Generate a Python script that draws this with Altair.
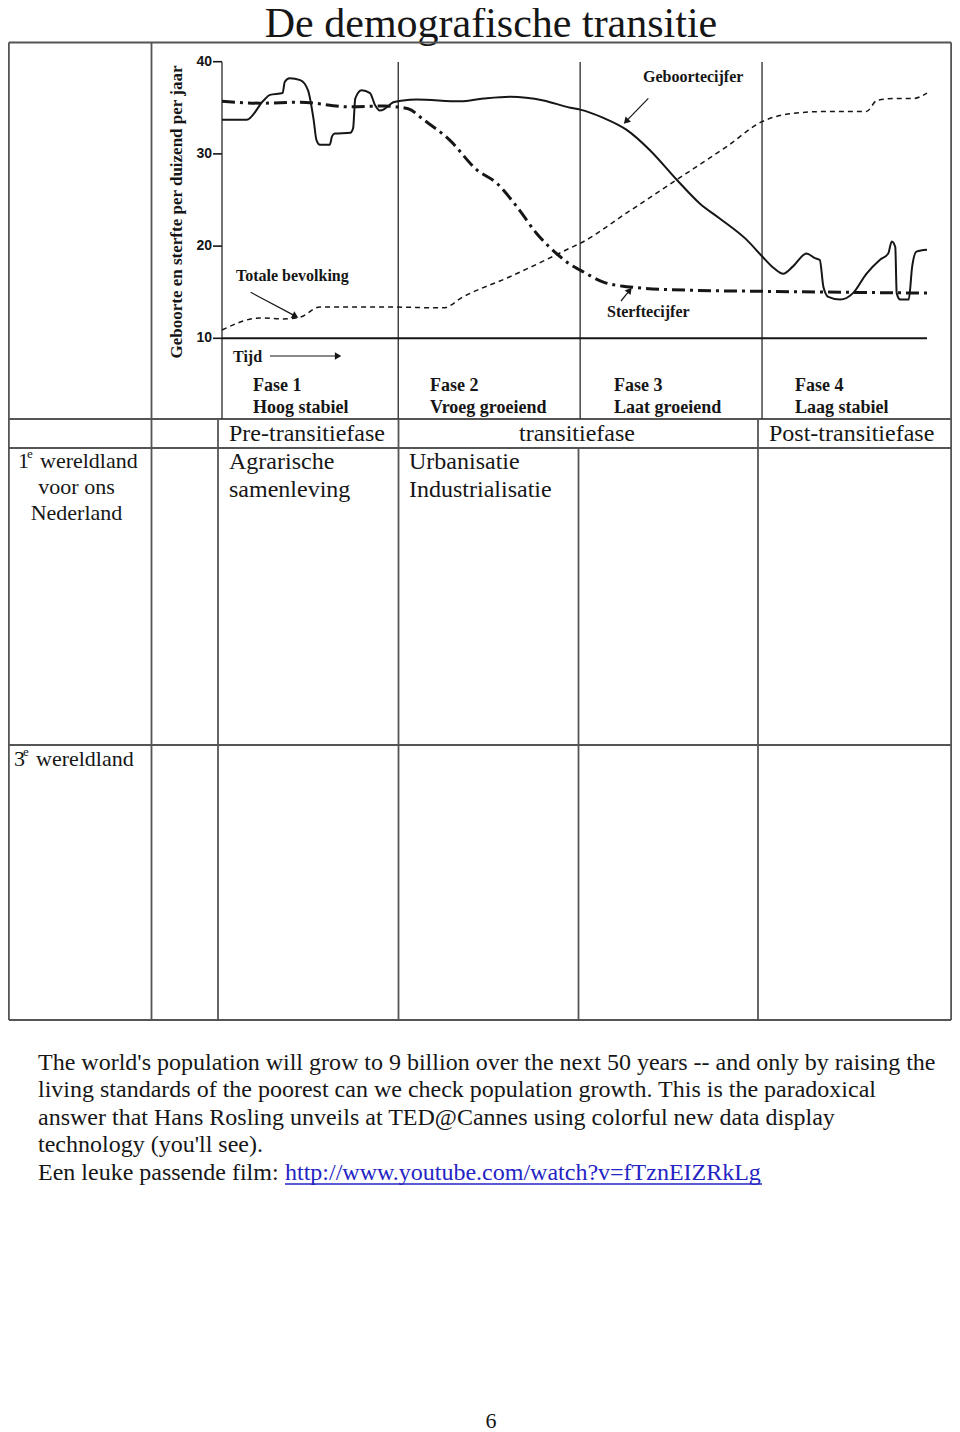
import math
import altair as alt
import pandas as pd

# ---------------- data ----------------
# time axis: 0 .. 100 (arbitrary "Tijd" units), rates per thousand per year
tijd_geboorte = [0, 3.5, 5.9, 6.8, 8.6, 8.9, 9.6, 11.1, 12.2, 13.0, 13.4, 13.9, 15.3, 15.6,
                 16.0, 18.2, 18.6, 18.9, 19.8, 21.0, 21.7, 22.4, 23.1, 24.3, 25.7, 27.6,
                 33.8, 37.1, 40.9, 45.6, 49.4, 50.8, 54.1, 57.4, 60.7, 64.5, 67.8, 70.6,
                 74.4, 76.6, 78.3, 79.6, 81.0, 82.9, 84.1, 84.8, 85.3, 86.0, 87.7, 89.5,
                 91.4, 93.3, 94.5, 95.0, 95.5, 95.7, 96.2, 97.4, 97.9, 98.5, 100]
geboorte = [33.7, 33.7, 35.8, 36.4, 36.6, 37.8, 38.2, 38.0, 36.9, 33.7, 31.5, 31.0, 31.0, 31.9,
            32.2, 32.3, 32.8, 36.0, 36.9, 36.6, 35.3, 34.7, 34.9, 35.6, 35.8, 35.9,
            35.7, 36.0, 36.2, 35.8, 35.0, 34.8, 33.9, 32.6, 30.4, 27.2, 24.6, 23.0,
            20.7, 18.9, 17.6, 17.0, 17.8, 19.2, 18.7, 18.5, 15.6, 14.5, 14.2, 14.9,
            17.0, 18.5, 19.2, 20.5, 19.9, 14.9, 14.2, 14.2, 17.8, 19.4, 19.6]

tijd_sterfte = [0, 5.4, 11.1, 18.2, 22.9, 26.4, 28.6, 32.3, 36.1, 39.0, 41.8, 44.6, 47.9,
                49.4, 50.8, 54.1, 57.4, 66.9, 76.3, 100]
sterfte = [35.7, 35.5, 35.6, 35.1, 35.2, 34.9, 33.7, 31.5, 28.3, 26.8, 24.3, 21.4, 18.9,
           18.0, 17.4, 16.1, 15.6, 15.2, 15.1, 14.9]

tijd_bevolking = [0, 5.4, 8.7, 11.1, 13.9, 22.9, 31.4, 34.2, 40.9, 47.0, 49.4, 50.8, 57.4,
                  64.5, 71.6, 76.6, 81.0, 85.8, 91.4, 92.9, 95.2, 98.0, 100]
bevolking = [10.9, 12.2, 12.1, 12.3, 13.4, 13.4, 13.3, 14.5, 16.7, 18.9, 19.8, 20.3, 23.6,
             27.2, 30.8, 33.5, 34.4, 34.6, 34.6, 35.8, 36.0, 36.0, 36.6]

y_ticks = [10, 20, 30, 40]
fase_grenzen = [0, 25, 50.8, 76.6]
fase_titels = ["Fase 1", "Fase 2", "Fase 3", "Fase 4"]
fase_namen = ["Hoog stabiel", "Vroeg groeiend", "Laat groeiend", "Laag stabiel"]

titel = "De demografische transitie"
y_titel = "Geboorte en sterfte per duizend per jaar"
kop_rij = ["Pre-transitiefase", "transitiefase", "Post-transitiefase"]
body = [
    "The world's population will grow to 9 billion over the next 50 years -- and only by raising the",
    "living standards of the poorest can we check population growth. This is the paradoxical",
    "answer that Hans Rosling unveils at TED@Cannes using colorful new data display",
    "technology (you'll see).",
]
film_label = "Een leuke passende film: "
film_link = "http://www.youtube.com/watch?v=fTznEIZRkLg"

# ---------------- layout ----------------
W, H = 944, 1424
M = 8  # page margin
INK = "#161616"
GRID = "#555555"
SERIF = "Liberation Serif"

TSCALE = alt.Scale(domain=[0, 100], range=[222 - M, 927 - M], nice=False, zero=False)
VSCALE = alt.Scale(domain=[10, 40], range=[338.3 - M, 61.7 - M], nice=False, zero=False)


def idx(f):
    return alt.X(f, scale=None, axis=None)


def idy(f):
    return alt.Y(f, scale=None, axis=None)


def tekst(rows, size, weight="normal", align="left", font=SERIF, color=INK, angle=0,
          baseline="middle"):
    df = pd.DataFrame(rows, columns=["x", "y", "t"])
    df["x"] = df["x"] - M
    df["y"] = df["y"] - M
    return alt.Chart(df).mark_text(
        align=align, baseline=baseline, fontSize=size, font=font,
        fontWeight=weight, color=color, angle=angle
    ).encode(x=idx("x:Q"), y=idy("y:Q"), text="t:N")


def lijnen(rows, width, color):
    df = pd.DataFrame(rows, columns=["x", "y", "x2", "y2"])
    for c in df.columns:
        df[c] = df[c] - M
    return alt.Chart(df).mark_rule(strokeWidth=width, color=color).encode(
        x=idx("x:Q"), y=idy("y:Q"), x2="x2:Q", y2="y2:Q"
    )


layers = []

# ---- title
layers.append(tekst([(491, 37, titel)], 42, align="center", baseline="alphabetic"))

# ---- table grid (outer border kept just inside the drawable area)
L, R = 8.9, 951.1
tab_h = [(L, 42.5, R, 42.5), (L, 419, R, 419), (L, 448, R, 448),
         (L, 745, R, 745), (L, 1020, R, 1020)]
tab_v = [(L, 42.5, L, 1020), (R, 42.5, R, 1020), (151.5, 42.5, 151.5, 1020),
         (218, 419, 218, 1020), (398.5, 419, 398.5, 1020), (578.5, 448, 578.5, 1020),
         (758, 419, 758, 1020)]
layers.append(lijnen(tab_h + tab_v, 1.8, GRID))

# ---- chart: axis / phase lines
fdf = pd.DataFrame({"t": fase_grenzen, "y": [62 - M] * 4, "y2": [419 - M] * 4})
layers.append(alt.Chart(fdf).mark_rule(strokeWidth=1.3, color="#2a2a2a").encode(
    x=alt.X("t:Q", scale=TSCALE, axis=None), y=idy("y:Q"), y2="y2:Q"))

bdf = pd.DataFrame({"t": [0], "t2": [100], "v": [10]})
layers.append(alt.Chart(bdf).mark_rule(strokeWidth=2, color=INK).encode(
    x=alt.X("t:Q", scale=TSCALE, axis=None), x2="t2:Q",
    y=alt.Y("v:Q", scale=VSCALE, axis=None)))

tdf = pd.DataFrame({"v": y_ticks, "x": [213 - M] * 4, "x2": [222 - M] * 4,
                    "lab": [str(v) for v in y_ticks], "lx": [212 - M] * 4})
layers.append(alt.Chart(tdf).mark_rule(strokeWidth=1.6, color=INK).encode(
    x=idx("x:Q"), x2="x2:Q", y=alt.Y("v:Q", scale=VSCALE, axis=None)))
layers.append(alt.Chart(tdf).mark_text(
    align="right", baseline="middle", fontSize=14, font="Liberation Sans",
    fontWeight="bold", color=INK).encode(
    x=idx("lx:Q"), y=alt.Y("v:Q", scale=VSCALE, axis=None), text="lab:N"))

# y title
layers.append(tekst([(177, 212, y_titel)], 17, weight="bold", align="center", angle=270))


# ---- curves
def curve(t, v, width, dash=None):
    df = pd.DataFrame({"t": t, "v": v})
    kw = dict(interpolate="monotone", strokeWidth=width, color=INK, strokeCap="butt")
    if dash:
        kw["strokeDash"] = dash
    return alt.Chart(df).mark_line(**kw).encode(
        x=alt.X("t:Q", scale=TSCALE, axis=None),
        y=alt.Y("v:Q", scale=VSCALE, axis=None))


layers.append(curve(tijd_bevolking, bevolking, 1.5, [5, 4]))
layers.append(curve(tijd_sterfte, sterfte, 3, [13, 5, 3, 5]))
layers.append(curve(tijd_geboorte, geboorte, 2))

# ---- chart labels
fase_x = [253, 430, 614, 795]
layers.append(tekst([(x, 386, s) for x, s in zip(fase_x, fase_titels)] +
                    [(x, 408, s) for x, s in zip(fase_x, fase_namen)], 18, weight="bold"))
layers.append(tekst([(233, 357, "Tijd"), (236, 276, "Totale bevolking"),
                     (643, 77, "Geboortecijfer"), (607, 312, "Sterftecijfer")],
                    16, weight="bold"))

# ---- arrows
pijlen = [((270, 356), (341, 356)), ((250.7, 292.3), (298, 317.5)),
          ((648.3, 98.3), (624, 123.5)), ((621, 301), (631.5, 288))]
schacht, koppen = [], []
for (sx, sy), (ex, ey) in pijlen:
    dx, dy = ex - sx, ey - sy
    ln = math.hypot(dx, dy)
    ux, uy = dx / ln, dy / ln
    schacht.append((sx, sy, ex - 5 * ux, ey - 5 * uy))
    ang = math.degrees(math.atan2(dx, -dy)) % 360
    koppen.append((ex - 4 * ux - M, ey - 4 * uy - M, ang))
layers.append(lijnen(schacht, 1.2, INK))
kdf = pd.DataFrame(koppen, columns=["x", "y", "a"])
layers.append(alt.Chart(kdf).mark_point(shape="triangle", filled=True, size=55,
                                        color=INK, opacity=1).encode(
    x=idx("x:Q"), y=idy("y:Q"), angle=alt.Angle("a:Q", scale=None)))

# ---- table texts
TS = 24
layers.append(tekst([(229, 434, kop_rij[0]), (769, 434, kop_rij[2]),
                     (229, 462, "Agrarische"), (229, 490, "samenleving"),
                     (409, 462, "Urbanisatie"), (409, 490, "Industrialisatie")], TS))
layers.append(tekst([(577, 434, kop_rij[1])], TS, align="center"))
layers.append(tekst([(76.5, 487, "voor ons"), (76.5, 513, "Nederland")], 22, align="center"))
layers.append(tekst([(18, 461, "1"), (40, 461, "wereldland"),
                     (14, 759, "3"), (36, 759, "wereldland")], 22))
layers.append(tekst([(27, 454, "e"), (23, 752, "e")], 13))

# ---- body text
by = [1063, 1090, 1118, 1145]
layers.append(tekst([(38, y, s) for y, s in zip(by, body)] + [(38, 1173, film_label)], TS))
layers.append(tekst([(285, 1173, film_link)], TS, color="#2424c4"))
layers.append(lijnen([(285, 1184, 762, 1184)], 1.3, "#2424c4"))

# ---- page number
layers.append(tekst([(491, 1421, "6")], 22, align="center"))

chart = alt.layer(*layers).resolve_scale(x="independent", y="independent").properties(
    width=W, height=H, autosize=alt.AutoSizeParams(type="none"), padding=0,
    background="white"
).configure_view(strokeWidth=0)

chart.save("out.html", embed_options={"renderer": "svg", "actions": False})
